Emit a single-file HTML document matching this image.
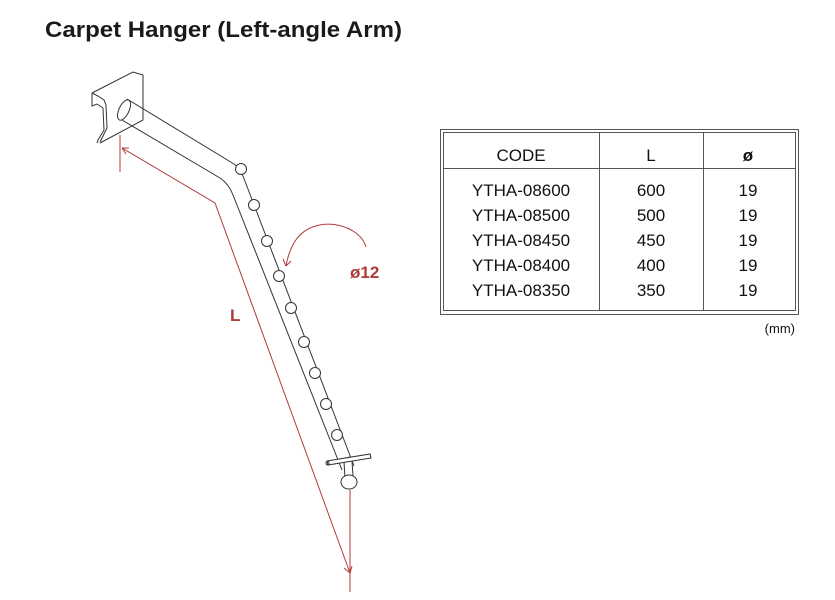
<!DOCTYPE html>
<html><head><meta charset="utf-8"><style>
html,body{margin:0;padding:0;background:#fff;}
svg{display:block;}
</style></head><body>
<svg width="835" height="600" viewBox="0 0 835 600" xmlns="http://www.w3.org/2000/svg">
<rect width="835" height="600" fill="#fff"/>
<text x="45" y="37" font-family="Liberation Sans, sans-serif" font-weight="bold" font-size="22" fill="#1a1a1a" textLength="357" lengthAdjust="spacingAndGlyphs">Carpet Hanger (Left-angle Arm)</text>

<g fill="none" stroke="#333" stroke-width="1">
<path d="M92,93 L133,72 L143,75 L143,120 L100,143"/>
<path d="M92,93 L92,106 L97,104 L103,108 L104,130 L98,140 L97,143"/>
<path d="M92,106 L92,97 M92,93 L98,96 L104,100 L106,105 L107,128 L100,142"/>
<ellipse cx="124" cy="110" rx="5" ry="11" transform="rotate(25 124 110)"/>
<path d="M127,99 L234,164 Q240,168 243,176 L354,466"/>
<path d="M122,120 L220,178 Q229,184 233,195 L342,470"/>
<g fill="#fff">
<circle cx="241" cy="169" r="5.5"/><circle cx="254" cy="205" r="5.5"/><circle cx="267" cy="241" r="5.5"/><circle cx="279" cy="276" r="5.5"/><circle cx="291" cy="308" r="5.5"/><circle cx="304" cy="342" r="5.5"/><circle cx="315" cy="373" r="5.5"/><circle cx="326" cy="404" r="5.5"/><circle cx="337" cy="435" r="5.5"/>
</g>
<path d="M327,461 L370,454 L371,458 L328,465 Z" fill="#fff"/>
<ellipse cx="327.5" cy="463" rx="1.5" ry="2"/>
<path d="M344,462 L345,478 M352,461 L353,476 M346,458 L350,457"/>
<ellipse cx="349" cy="482" rx="8" ry="7" fill="#fff"/>
</g>

<g fill="none" stroke="#b03a3a" stroke-width="1">
<path d="M120,135 L120,172"/>
<path d="M122,148 L215,203 L350,573"/>
<path d="M122,148 L129,148 M122,148 L126,154"/>
<path d="M350,490 L350,592"/>
<path d="M350,573 L344,568 M350,573 L352,566"/>
<path d="M366,247 C360,225 320,215 300,235 C292,243 288,255 286,266"/>
<path d="M286,266 L283,259 M286,266 L291,261"/>
</g>
<text x="350" y="278" font-family="Liberation Sans, sans-serif" font-size="17" font-weight="bold" fill="#b03a3a">ø12</text>
<text x="230" y="321" font-family="Liberation Sans, sans-serif" font-size="17" font-weight="bold" fill="#b03a3a">L</text>

<g fill="none" stroke="#555">
<rect x="440.5" y="129.5" width="358" height="185" stroke-width="1"/>
<rect x="443.5" y="132.5" width="352" height="178" stroke-width="1"/>
<path d="M443,168.5 H796 M599.5,133 V311 M703.5,133 V311"/>
</g>
<g font-family="Liberation Sans, sans-serif" font-size="17" fill="#111" text-anchor="middle">
<text x="521" y="161">CODE</text><text x="651" y="161">L</text><text x="748" y="161" font-weight="bold">ø</text>
<text x="521" y="196">YTHA-08600</text><text x="651" y="196">600</text><text x="748" y="196">19</text>
<text x="521" y="221">YTHA-08500</text><text x="651" y="221">500</text><text x="748" y="221">19</text>
<text x="521" y="246">YTHA-08450</text><text x="651" y="246">450</text><text x="748" y="246">19</text>
<text x="521" y="271">YTHA-08400</text><text x="651" y="271">400</text><text x="748" y="271">19</text>
<text x="521" y="296">YTHA-08350</text><text x="651" y="296">350</text><text x="748" y="296">19</text>
</g>
<text x="795" y="333" font-family="Liberation Sans, sans-serif" font-size="13" fill="#111" text-anchor="end">(mm)</text>
</svg>
</body></html>
